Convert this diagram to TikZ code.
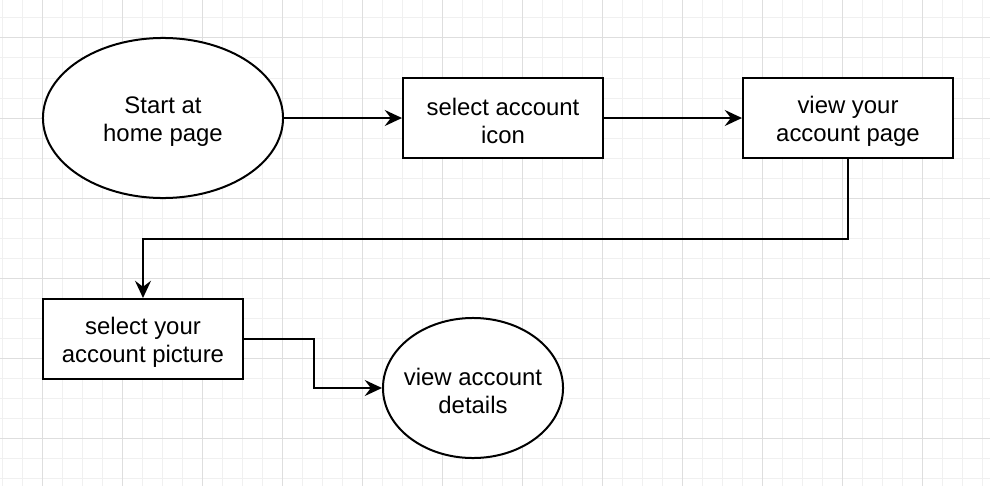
\documentclass[tikz,border=0pt]{standalone}
\usepackage{fontspec}
\setmainfont{Liberation Sans}
\usetikzlibrary{arrows.meta,shapes.geometric}

\tikzset{
  minorgrid/.style={line width=0.025cm, black!6},
  majorgrid/.style={line width=0.025cm, black!13},
  stepbox/.style={draw, line width=0.05cm, fill=white, rectangle, minimum height=2cm, align=center, inner sep=0pt, text height=1.29cm},
  endpoint/.style={draw, line width=0.05cm, fill=white, ellipse, align=center, inner ysep=0pt, inner xsep=-0.6cm, text height=1.29cm},
  flow/.style={line width=0.05cm, -{Stealth[length=0.43cm, width=0.4cm, inset=0.15cm]}},
}

\begin{document}
\begin{tikzpicture}[x=0.025cm, y=-0.025cm, font=\fontsize{17}{20}\selectfont]
    \useasboundingbox (0, 0) rectangle (990, 486);
    \fill [white] (0, 0) rectangle (990, 486);

    % grid
    \foreach \x in {2,22,...,982} \draw [minorgrid] (\x, 0) -- (\x, 486);
    \foreach \y in {18,38,...,478} \draw [minorgrid] (0, \y) -- (990, \y);
    \foreach \x in {42,122,...,922} \draw [majorgrid] (\x, 0) -- (\x, 486);
    \foreach \y in {38,118,...,438} \draw [majorgrid] (0, \y) -- (990, \y);

    \node [endpoint, minimum width=6cm, minimum height=4cm] (start) at (163, 118) {Start at\\home page};
    \node [stepbox, minimum width=5cm] (icon) at (503, 118) {select account\\icon};
    \node [stepbox, minimum width=5.25cm] (page) at (848, 118) {view your\\account page};
    \node [stepbox, minimum width=5cm] (picture) at (143, 339) {select your\\account picture};
    \node [endpoint, minimum width=4.5cm, minimum height=3.5cm] (details) at (473, 388) {view account\\details};

    \draw [flow] (start) -- (icon);
    \draw [flow] (icon) -- (page);
    \draw [flow] (page.south) -- ++(0, 80) -| (picture.north);
    \draw [flow] (picture.east) -- ++(70, 0) |- (details.west);
  \end{tikzpicture}
\end{document}
